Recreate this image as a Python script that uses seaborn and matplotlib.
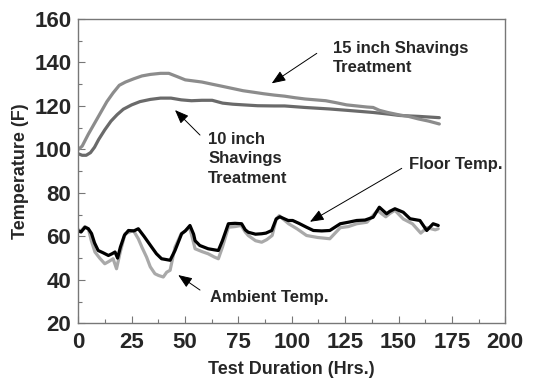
import numpy as np
import pandas as pd
import matplotlib
matplotlib.use("Agg")
import matplotlib.pyplot as plt
import seaborn as sns

# ---- data ----
hrs_15 = [0, 1.8, 4.7, 7.6, 10.5, 13.4, 16.3, 19.2, 22.1, 26, 29.8, 33.7, 38.5, 42.4,
          46.3, 50.1, 54, 57.9, 62.7, 67.6, 72.4, 77.2, 82.1, 86.9, 91.7, 96.6, 101.4,
          106.2, 111.1, 115.9, 120.7, 125.6, 130.4, 135.2, 138.1, 141, 144.9, 150.7,
          154.6, 159.4, 164.2, 169.1]
temp_15 = [100, 101.5, 107, 112, 117, 122, 126, 129.5, 131, 132.5, 133.8, 134.5, 135,
           135, 133.5, 132, 131.5, 131, 130, 129, 128, 127, 126.3, 125.6, 125, 124.5,
           123.8, 123.2, 122.8, 122.4, 121.5, 120.5, 120, 119.5, 119.3, 118, 117,
           115.8, 115.2, 114, 113, 111.7]

hrs_10 = [0, 1.8, 3.7, 5.7, 7.6, 9.5, 12.4, 15.3, 18.2, 21.1, 25, 28.9, 33.7, 38.5,
          43.4, 48.2, 53, 57.9, 62.7, 67.6, 72.4, 77.2, 84, 91.7, 96.6, 106.2, 117.8,
          125.6, 138.1, 144.9, 150.7, 159.4, 169.1]
temp_10 = [98, 97.3, 97.3, 98.5, 101, 104.5, 109, 113, 116, 118.5, 120.5, 122, 123,
           123.6, 123.6, 122.8, 122.4, 122.6, 122.6, 121.3, 120.8, 120.5, 120.1, 120,
           120, 119.3, 118.6, 118, 117, 116.3, 115.6, 115.2, 114.6]

hrs_floor = [0, 1.3, 3.1, 4.7, 6.2, 7.6, 9.3, 11.5, 14.1, 15.8, 17.2, 18.4, 19.7, 21.6,
             23.5, 26, 28.1, 30.8, 34.4, 36.6, 39, 43, 45.3, 48.4, 50.1, 52.3, 54, 54.7,
             56.9, 60.8, 63.7, 65.6, 67.5, 70.3, 73.4, 76.5, 78.2, 79.6, 83, 85.9, 87.9,
             90.6, 92.7, 94.4, 98.3, 100.4, 103.3, 106.9, 110.1, 114, 117.8, 122.7,
             126.5, 130.4, 134.3, 138.1, 141, 144.4, 145.9, 148.3, 152.2, 155.4, 160,
             163.2, 166.2, 168.6]
temp_floor = [62.5, 62, 64.2, 63.5, 61.3, 57, 53.5, 52.5, 51.2, 52, 52.8, 50, 55, 60.5,
              62.7, 62.5, 63.5, 60, 55, 52, 49.7, 49, 53.5, 61.2, 62.5, 65, 61, 58, 55.8,
              54.3, 53.8, 53.5, 58, 65.8, 66, 65.8, 63, 61.9, 61, 61.2, 61.5, 62.7, 68,
              69, 67.3, 67.3, 66, 64.2, 62.7, 62.5, 62.7, 65.8, 66.5, 67.3, 67.5, 68.8,
              73.4, 70.4, 71.5, 72.7, 71.1, 68.1, 67.3, 62.7, 65.8, 65]

hrs_amb = [0, 1.3, 3.1, 4.7, 6.1, 7.8, 10, 12.4, 14.4, 16.3, 17.9, 19.7, 21.9, 25.8,
           28.1, 29.8, 32, 33.7, 35.9, 37.6, 39.8, 41.4, 43, 45.3, 48.2, 50.1, 52.1,
           53.5, 54.7, 57.9, 60.8, 63.7, 65.6, 67.5, 70.3, 73.4, 76.3, 78.2, 79.6, 83,
           85.9, 88.3, 90.8, 92.7, 94.1, 98.5, 102.4, 106.9, 112.0, 117.8, 122.7, 126.5,
           130.4, 135.2, 140.1, 144, 145.9, 148.3, 152.2, 156.5, 160.4, 163.3, 167.2,
           168.6]
temp_amb = [63, 62.5, 64.5, 63.5, 58, 52.8, 50, 47.4, 48.5, 49.7, 45.1, 53, 61.2, 62.7,
            58.9, 55, 50.4, 46, 42.8, 42, 41.3, 43.5, 44.4, 55, 61.2, 62.5, 64.2, 59,
            54.3, 53, 52, 50.5, 49.7, 55, 64.2, 64.5, 65, 62, 60.4, 58, 57.3, 58.5, 60.4,
            68, 69.5, 65.8, 63.5, 60.4, 59.5, 58.9, 64, 64.5, 65.8, 66.5, 71.9, 69, 70.5,
            72, 68, 65.8, 61.5, 64, 63, 63.5]

x_ticks = [0, 25, 50, 75, 100, 125, 150, 175, 200]
y_ticks = [20, 40, 60, 80, 100, 120, 140, 160]

# ---- styling ----
sns.set_style("white")
plt.rcParams['font.family'] = ['Liberation Sans', 'DejaVu Sans']
plt.rcParams['font.weight'] = 'bold'

fig = plt.figure(figsize=(5.38, 3.78), dpi=100)
ax = fig.add_axes([78.3 / 538, 1 - 323.3 / 378, 427 / 538, 304.3 / 378])

lw = 2.3
sns.lineplot(x=hrs_amb, y=temp_amb, ax=ax, color='#a9a9a9', linewidth=lw, sort=False, estimator=None)
sns.lineplot(x=hrs_floor, y=temp_floor, ax=ax, color='#000000', linewidth=lw, sort=False, estimator=None)
sns.lineplot(x=hrs_10, y=temp_10, ax=ax, color='#6a6a6a', linewidth=lw, sort=False, estimator=None)
sns.lineplot(x=hrs_15, y=temp_15, ax=ax, color='#8c8c8c', linewidth=lw, sort=False, estimator=None)

ax.set_xlim(0, 200)
ax.set_ylim(20, 160)
ax.set_xticks(x_ticks)
ax.set_yticks(y_ticks)
ax.set_xticks(np.arange(12.5, 200, 25), minor=True)
ax.set_yticks(np.arange(30, 160, 20), minor=True)
ax.tick_params(axis='both', which='major', direction='in', length=5, width=0.8,
               color='#777777', labelsize=16, top=False, right=False,
               bottom=True, left=True)
ax.tick_params(axis='x', which='major', pad=6)
ax.tick_params(axis='y', which='major', pad=5)
ax.tick_params(axis='both', which='minor', direction='in', length=3, width=0.8,
               color='#777777', top=False, right=False, bottom=True, left=True)
for lab in ax.get_xticklabels() + ax.get_yticklabels():
    lab.set_fontweight('bold')
for s in ax.spines.values():
    s.set_color('#777777')
    s.set_linewidth(1.0)

ax.set_xlabel('Test Duration (Hrs.)', fontsize=13, fontweight='bold', labelpad=6)
ax.set_ylabel('Temperature (F)', fontsize=13, fontweight='bold', labelpad=4)

arrow = dict(arrowstyle='-|>,head_length=0.7,head_width=0.28', color='black',
             lw=0.7, mutation_scale=12, shrinkA=0, shrinkB=0)

# 15 inch
ax.annotate('', xy=(90.6, 130.4), xytext=(111.7, 144.2), arrowprops=arrow)
ax.text(119.4, 142.1, '15 inch Shavings\nTreatment', fontsize=12, fontweight='bold',
        ha='left', va='center', linespacing=1.3)
# 10 inch
ax.annotate('', xy=(45.3, 118.1), xytext=(57.0, 106.6), arrowprops=arrow)
ax.text(60.9, 95.6, '10 inch\nShavings\nTreatment', fontsize=12, fontweight='bold',
        ha='left', va='center', linespacing=1.4)
# floor
ax.annotate('', xy=(108.5, 66.7), xytext=(151.5, 91.3), arrowprops=arrow)
ax.text(155.0, 93.1, 'Floor Temp.', fontsize=12, fontweight='bold', ha='left', va='center')
# ambient
ax.annotate('', xy=(46.8, 42.2), xytext=(57.0, 35.3), arrowprops=arrow)
ax.text(61.7, 31.9, 'Ambient Temp.', fontsize=12, fontweight='bold', ha='left', va='center')

fig.savefig('out.png', dpi=100)
